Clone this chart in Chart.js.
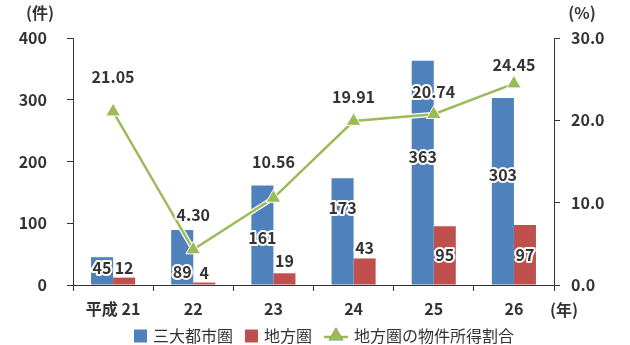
<!DOCTYPE html>
<html>
<head>
<meta charset="utf-8">
<script src="https://cdn.jsdelivr.net/npm/chart.js@4/dist/chart.umd.min.js"></script>
<style>
  body { margin: 0; background: #fff; }
  #wrap { width: 630px; height: 345px; position: relative; }
</style>
</head>
<body>
<div id="wrap"><canvas id="mainChart"></canvas></div>
<script>
var categories = ['平成 21', '22', '23', '24', '25', '26'];
var metroCounts = [45, 89, 161, 173, 363, 303];
var localCounts = [12, 4, 19, 43, 95, 97];
var localShare = [21.05, 4.30, 10.56, 19.91, 20.74, 24.45];
var countTicks = [0, 100, 200, 300, 400];
var shareTicks = [0, 10, 20, 30];

var FONT = '"Noto Sans CJK JP", "Noto Sans", sans-serif';
var TEXT = '#333333';
var AXIS = '#333333';
var BLUE = '#4F81BD';
var RED = '#C0504D';
var GREEN = '#9BBB59';

// pixel nudges for the value labels (positive = downward from the mark)
var metroLabelShift = [11, 42, 52, 30, 96, 77];
var localLabelShift = [-10, -10, -12, -11, 29, 30];
var shareLabelShift = [-35, -35, -36, -24, -22, -19];

var labelSets = [
    { index: 0, shift: metroLabelShift, fmt: function(v) { return String(v); } },
    { index: 1, shift: localLabelShift, fmt: function(v) { return String(v); } },
    { index: 3, shift: shareLabelShift, fmt: function(v) { return v.toFixed(2); } }
];

var valueLabels = {
    id: 'valueLabels',
    afterDatasetsDraw: function(chart) {
        var ctx = chart.ctx;
        ctx.save();
        ctx.font = 'bold 16px ' + FONT;
        ctx.textAlign = 'center';
        ctx.textBaseline = 'middle';
        ctx.lineJoin = 'round';
        ctx.lineWidth = 4;
        ctx.strokeStyle = '#fff';
        ctx.fillStyle = TEXT;
        labelSets.forEach(function(set) {
            var meta = chart.getDatasetMeta(set.index);
            var values = chart.data.datasets[set.index].data;
            meta.data.forEach(function(el, i) {
                var txt = set.fmt(values[i]);
                var y = el.y + set.shift[i];
                ctx.strokeText(txt, el.x, y);
                ctx.fillText(txt, el.x, y);
            });
        });
        ctx.restore();
    }
};

var extras = {
    id: 'extras',
    afterDraw: function(chart) {
        var ctx = chart.ctx;
        var area = chart.chartArea;
        ctx.save();
        ctx.fillStyle = TEXT;
        ctx.textBaseline = 'middle';
        ctx.textAlign = 'center';
        ctx.font = 'bold 16px ' + FONT;
        ctx.fillText('(件)', area.left - 33, 13);
        ctx.fillText('(%)', area.right + 28, 13);
        ctx.fillText('(年)', area.right + 10, 310);

        // legend
        ctx.font = '16px ' + FONT;
        var items = [
            { kind: 'box', color: BLUE, text: '三大都市圏' },
            { kind: 'box', color: RED, text: '地方圏' },
            { kind: 'line', color: GREEN, text: '地方圏の物件所得割合' }
        ];
        var gap = 12;
        var total = 0;
        items.forEach(function(it) {
            it.sw = it.kind === 'box' ? 13 : 24;
            it.tw = ctx.measureText(it.text).width;
            total += it.sw + 6 + it.tw;
        });
        total += gap * (items.length - 1);
        var x = 324 - total / 2;
        var cy = 336;
        ctx.textAlign = 'left';
        items.forEach(function(it) {
            if (it.kind === 'box') {
                ctx.fillStyle = it.color;
                ctx.fillRect(x, cy - 6.5, 13, 13);
            } else {
                ctx.strokeStyle = it.color;
                ctx.lineWidth = 2.5;
                ctx.beginPath();
                ctx.moveTo(x, cy + 1);
                ctx.lineTo(x + it.sw, cy + 1);
                ctx.stroke();
                Chart.helpers.drawPoint(ctx, { pointStyle: 'triangle', radius: 8.5, borderWidth: 0 }, x + it.sw / 2, cy);
                ctx.fillStyle = it.color;
                ctx.fill();
            }
            ctx.fillStyle = TEXT;
            ctx.fillText(it.text, x + it.sw + 6, cy);
            x += it.sw + 6 + it.tw + gap;
        });
        ctx.restore();
    }
};

var mainChart = new Chart(document.getElementById('mainChart'), {
    type: 'bar',
    data: {
        labels: categories,
        datasets: [{
            label: '三大都市圏',
            data: metroCounts,
            backgroundColor: BLUE,
            yAxisID: 'y',
            order: 2,
            categoryPercentage: 0.55,
            barPercentage: 1.0
        }, {
            label: '地方圏',
            data: localCounts,
            backgroundColor: RED,
            yAxisID: 'y',
            order: 2,
            categoryPercentage: 0.55,
            barPercentage: 1.0
        }, {
            label: 'halo',
            type: 'line',
            data: localShare,
            yAxisID: 'y1',
            borderColor: '#fff',
            borderWidth: 5,
            pointRadius: 0,
            order: 1
        }, {
            label: '地方圏の物件所得割合',
            type: 'line',
            data: localShare,
            yAxisID: 'y1',
            borderColor: GREEN,
            borderWidth: 2.5,
            pointStyle: 'triangle',
            pointRadius: 8.5,
            pointBackgroundColor: GREEN,
            pointBorderColor: '#fff',
            pointBorderWidth: 1,
            order: 0
        }]
    },
    options: {
        responsive: true,
        maintainAspectRatio: false,
        animation: false,
        events: [],
        layout: {
            padding: { top: 38, bottom: 26, left: 0, right: 0 }
        },
        plugins: {
            legend: { display: false },
            tooltip: { enabled: false }
        },
        scales: {
            x: {
                offset: true,
                grid: { drawOnChartArea: false, drawTicks: true, tickLength: 6, color: AXIS, offset: true },
                border: { color: AXIS },
                ticks: { color: TEXT, padding: 8, font: { family: FONT, size: 16, weight: 'bold' } },
                afterFit: function(s) { s.height = 34; }
            },
            y: {
                position: 'left',
                min: 0,
                max: 400,
                afterBuildTicks: function(s) { s.ticks = countTicks.map(function(v) { return { value: v }; }); },
                grid: { drawOnChartArea: false, drawTicks: true, tickLength: 6, color: AXIS },
                border: { color: AXIS },
                ticks: { color: TEXT, padding: 20, font: { family: FONT, size: 16, weight: 'bold' } },
                afterFit: function(s) { s.width = 73; }
            },
            y1: {
                position: 'right',
                min: 0,
                max: 30,
                afterBuildTicks: function(s) { s.ticks = shareTicks.map(function(v) { return { value: v }; }); },
                grid: { drawOnChartArea: false, drawTicks: true, tickLength: 6, color: AXIS },
                border: { color: AXIS },
                ticks: {
                    color: TEXT, padding: 11, font: { family: FONT, size: 16, weight: 'bold' },
                    callback: function(v) { return Number(v).toFixed(1); }
                },
                afterFit: function(s) { s.width = 76; }
            }
        }
    },
    plugins: [valueLabels, extras]
});
</script>
</body>
</html>
